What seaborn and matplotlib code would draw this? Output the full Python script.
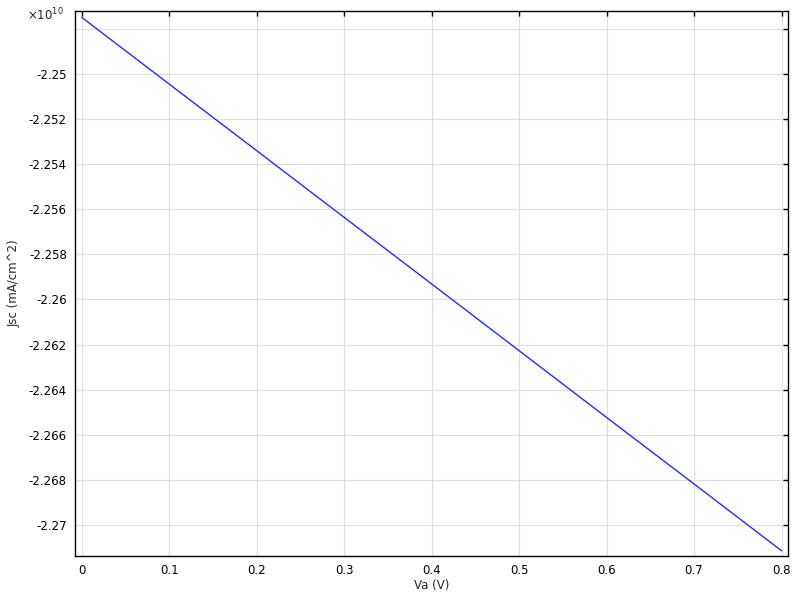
import numpy as np
import seaborn as sns
import pandas as pd
from matplotlib import pyplot as plt
from matplotlib.ticker import FuncFormatter, MultipleLocator

# Values
va = [0.0, 0.1, 0.2, 0.3, 0.4, 0.5, 0.6, 0.7, 0.8]
jsc = [-2.24749e10, -2.25045e10, -2.25340e10, -2.25636e10, -2.25931e10,
       -2.26227e10, -2.26523e10, -2.26818e10, -2.27114e10]

sns.set_theme(style="white")
plt.rcParams['font.family'] = ['DejaVu Sans']
plt.rcParams['axes.unicode_minus'] = False

data = pd.DataFrame({'Va': va, 'Jsc': jsc})


def y_label(v, pos):
    # the top tick carries no label (the exponent sits there)
    if v > -2.249e10:
        return ''
    return '%g' % round(v / 1e10, 5)


fig = plt.figure(figsize=(8, 6), dpi=100)
ax = fig.add_axes([0.094, 0.0733, 0.891, 0.9084])
sns.lineplot(data=data, x='Va', y='Jsc', ax=ax, color='#2a2aff', linewidth=1.0)

ax.set_xlim(-0.0074, 0.8074)
ax.set_ylim(-2.271375e10, -2.24721e10)
ax.xaxis.set_major_locator(MultipleLocator(0.1))
ax.yaxis.set_major_locator(MultipleLocator(0.002e10))
ax.xaxis.set_major_formatter(FuncFormatter(lambda v, p: '%g' % round(v, 4)))
ax.yaxis.set_major_formatter(FuncFormatter(y_label))

ax.grid(True, color='#dedede', linewidth=0.8)
for s in ax.spines.values():
    s.set_color('black')
    s.set_linewidth(1.0)
ax.tick_params(direction='in', length=3.6, width=1, top=True, right=True,
               labelsize=8.5, colors='black', pad=6)

ax.set_xlabel('Va (V)', fontsize=8.5, labelpad=1)
ax.set_ylabel('Jsc (mA/cm^2)', fontsize=8.5, labelpad=6)
ax.text(-0.0154, 0.993, r'$\times10^{10}$', transform=ax.transAxes,
        ha='right', va='center', fontsize=8.5)

fig.savefig('out.png', dpi=100)
